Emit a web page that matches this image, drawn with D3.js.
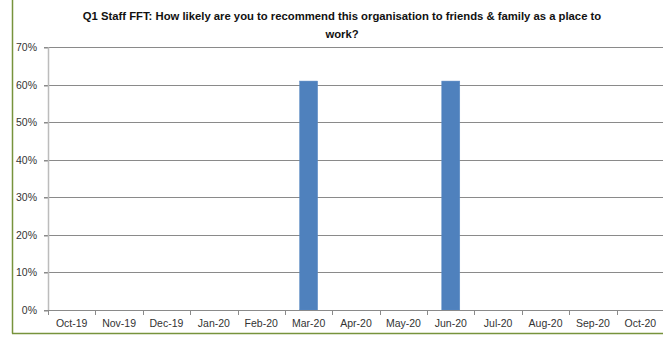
<!DOCTYPE html>
<html>
<head>
<meta charset="utf-8">
<script src="https://cdn.jsdelivr.net/npm/d3@7"></script>
<style>
  html, body { margin: 0; padding: 0; background: #fff; }
  svg { display: block; }
  text { font-family: "Liberation Sans", Arial, sans-serif; }
</style>
</head>
<body>
<svg id="chart" width="663" height="340"></svg>
<script>
// Monthly categories and the share answering "likely"/"extremely likely"
const months = ["Oct-19", "Nov-19", "Dec-19", "Jan-20", "Feb-20", "Mar-20", "Apr-20",
                "May-20", "Jun-20", "Jul-20", "Aug-20", "Sep-20", "Oct-20"];
const recommendPct = [null, null, null, null, null, 0.61, null, null, 0.61, null, null, null, null];
const yTicks = [0, 0.1, 0.2, 0.3, 0.4, 0.5, 0.6, 0.7];
const titleLines = [
  "Q1 Staff FFT: How likely are you to recommend this organisation to friends & family as a place to",
  "work?"
];

const svg = d3.select("#chart");
const W = 663, H = 340;
const plot = { left: 48, right: 664, top: 47.3, bottom: 310 };

// Chart frame (left and bottom edges visible)
svg.append("line").attr("x1", 12.5).attr("x2", 12.5).attr("y1", 0).attr("y2", 333.5)
  .attr("stroke", "#77933c").attr("stroke-width", 1.5);
svg.append("line").attr("x1", 12).attr("x2", W).attr("y1", 333.5).attr("y2", 333.5)
  .attr("stroke", "#77933c").attr("stroke-width", 1.5);

const x = d3.scaleBand().domain(months).range([plot.left, plot.right]).paddingInner(0.62).paddingOuter(0.31);
const xEdge = d3.scaleLinear().domain([0, months.length]).range([plot.left, plot.right]);
const y = d3.scaleLinear().domain([0, 0.7]).range([plot.bottom, plot.top]);

// Horizontal gridlines
svg.append("g").selectAll("line").data(yTicks.filter(d => d > 0)).join("line")
  .attr("x1", plot.left - 4).attr("x2", plot.right)
  .attr("y1", d => Math.round(y(d)) + 0.5).attr("y2", d => Math.round(y(d)) + 0.5)
  .attr("stroke", "#8a8a8a").attr("stroke-width", 1);

// Y axis labels and ticks
const yAxis = d3.axisLeft(y).tickValues(yTicks).tickFormat(d3.format(".0%")).tickSize(4).tickPadding(7);
const gy = svg.append("g").attr("transform", `translate(${plot.left},0)`).call(yAxis);
gy.select(".domain").remove();
gy.selectAll(".tick line").attr("stroke", "#8a8a8a").attr("transform", d => `translate(0,${Math.round(y(d)) + 0.5 - y(d)})`);
gy.selectAll(".tick text").attr("font-size", "10.5px").attr("fill", "#333")
  .attr("font-family", "'Liberation Sans', Arial, sans-serif");

// Bars
svg.append("g").selectAll("rect").data(months.map((m, i) => ({ m, v: recommendPct[i] })).filter(d => d.v != null))
  .join("rect")
  .attr("x", d => x(d.m))
  .attr("width", x.bandwidth())
  .attr("y", d => y(d.v))
  .attr("height", d => y(0) - y(d.v))
  .attr("fill", "#4f81bd")
  .attr("stroke", "#5b8ac4").attr("stroke-width", 0.5);

// Vertical axis line
svg.append("line").attr("x1", plot.left + 0.5).attr("x2", plot.left + 0.5)
  .attr("y1", plot.top).attr("y2", plot.bottom)
  .attr("stroke", "#bcbcbc").attr("stroke-width", 1.5);

// X axis baseline and category boundary ticks
svg.append("line").attr("x1", plot.left - 4).attr("x2", plot.right)
  .attr("y1", plot.bottom + 0.5).attr("y2", plot.bottom + 0.5)
  .attr("stroke", "#8a8a8a");
svg.append("g").selectAll("line").data(d3.range(months.length + 1)).join("line")
  .attr("x1", d => Math.round(xEdge(d)) + 0.5).attr("x2", d => Math.round(xEdge(d)) + 0.5)
  .attr("y1", plot.bottom).attr("y2", plot.bottom + 5)
  .attr("stroke", "#8a8a8a");

// X labels
const xAxis = d3.axisBottom(x).tickSize(0).tickPadding(10);
const gx = svg.append("g").attr("transform", `translate(0,${plot.bottom})`).call(xAxis);
gx.select(".domain").remove();
gx.selectAll(".tick text").attr("font-size", "10.5px").attr("fill", "#333")
  .attr("font-family", "'Liberation Sans', Arial, sans-serif");

// Title: size the font so the first line spans the intended width
const titleTargetWidth = 519;
const titleText = svg.append("g").selectAll("text").data(titleLines).join("text")
  .attr("x", 342).attr("y", (d, i) => 19.5 + i * 18)
  .attr("text-anchor", "middle")
  .attr("font-family", "'Liberation Sans Narrow', 'Liberation Sans', Arial, sans-serif")
  .attr("font-size", "13px").attr("font-weight", "bold").attr("fill", "#111")
  .text(d => d);
const firstLen = titleText.nodes()[0].getComputedTextLength();
if (firstLen > titleTargetWidth) {
  titleText.attr("font-size", (13 * titleTargetWidth / firstLen).toFixed(2) + "px");
}
</script>
</body>
</html>
